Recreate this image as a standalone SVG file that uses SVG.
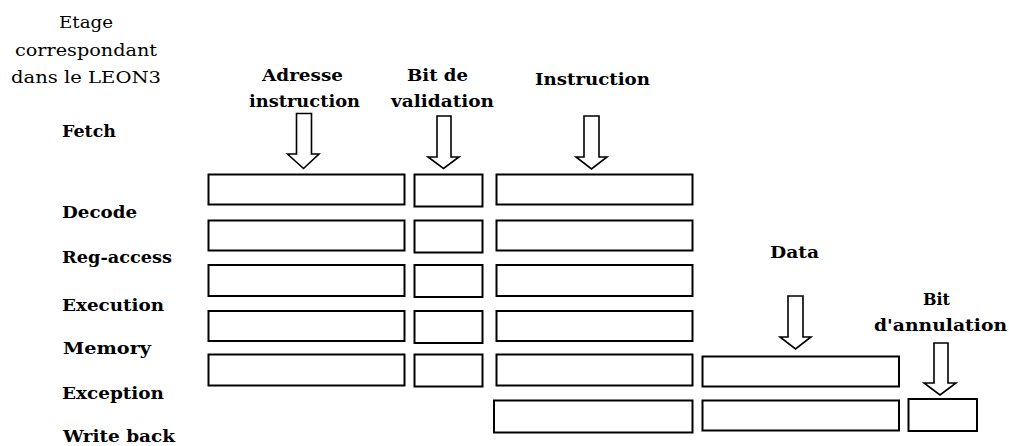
<svg xmlns="http://www.w3.org/2000/svg" width="1009" height="446" viewBox="0 0 1009 446">
<style>
.bg{fill:#fff}
.box{fill:#fff;stroke:#000;stroke-width:2}
.arr{fill:#fff;stroke:#000;stroke-width:1.6;stroke-linejoin:miter}
.lbl{font-family:"DejaVu Serif","Liberation Serif",serif;font-weight:bold;font-size:17.5px;fill:#000}
.reg{font-family:"DejaVu Serif","Liberation Serif",serif;font-size:16.5px;fill:#000}
</style>
<rect class="bg" x="0" y="0" width="1009" height="446"/>
<g id="header">
<text class="reg" x="59" y="28" textLength="54" lengthAdjust="spacingAndGlyphs">Etage</text>
<text class="reg" x="15" y="56" textLength="142" lengthAdjust="spacingAndGlyphs">correspondant</text>
<text class="reg" x="11" y="83" textLength="150" lengthAdjust="spacingAndGlyphs">dans le LEON3</text>
</g>
<g id="stages">
<text class="lbl" x="62" y="137" textLength="54" lengthAdjust="spacingAndGlyphs">Fetch</text>
<text class="lbl" x="62" y="218" textLength="75" lengthAdjust="spacingAndGlyphs">Decode</text>
<text class="lbl" x="62" y="263" textLength="110" lengthAdjust="spacingAndGlyphs">Reg-access</text>
<text class="lbl" x="62" y="311" textLength="102" lengthAdjust="spacingAndGlyphs">Execution</text>
<text class="lbl" x="63" y="354" textLength="88" lengthAdjust="spacingAndGlyphs">Memory</text>
<text class="lbl" x="62" y="399" textLength="102" lengthAdjust="spacingAndGlyphs">Exception</text>
<text class="lbl" x="63" y="442" textLength="112" lengthAdjust="spacingAndGlyphs">Write back</text>
</g>
<g id="col-adresse">
<text class="lbl" x="262" y="81" textLength="81" lengthAdjust="spacingAndGlyphs">Adresse</text>
<text class="lbl" x="249" y="107" textLength="111" lengthAdjust="spacingAndGlyphs">instruction</text>
<rect class="box" x="208.5" y="174.5" width="196" height="30"/>
<rect class="box" x="208.5" y="220.5" width="196" height="30"/>
<rect class="box" x="208.5" y="265" width="196" height="31"/>
<rect class="box" x="208.5" y="311" width="196" height="30"/>
<rect class="box" x="208.5" y="354.5" width="196" height="31"/>
</g>
<g id="col-validation">
<text class="lbl" x="407" y="81" textLength="61" lengthAdjust="spacingAndGlyphs">Bit de</text>
<text class="lbl" x="391" y="107" textLength="103" lengthAdjust="spacingAndGlyphs">validation</text>
<rect class="box" x="414.5" y="174.5" width="68" height="32"/>
<rect class="box" x="414.5" y="220.5" width="68" height="32"/>
<rect class="box" x="414.5" y="265" width="68" height="32"/>
<rect class="box" x="414.5" y="311" width="68" height="32"/>
<rect class="box" x="414.5" y="354.5" width="68" height="32"/>
</g>
<g id="col-instruction">
<text class="lbl" x="535" y="85" textLength="115" lengthAdjust="spacingAndGlyphs">Instruction</text>
<rect class="box" x="496.5" y="174.5" width="196" height="30"/>
<rect class="box" x="496.5" y="220.5" width="196" height="30"/>
<rect class="box" x="496.5" y="265" width="196" height="31"/>
<rect class="box" x="496.5" y="311" width="196" height="30"/>
<rect class="box" x="496.5" y="354.5" width="196" height="31"/>
<rect class="box" x="494" y="400.5" width="198.5" height="32"/>
</g>
<g id="col-data">
<text class="lbl" x="770" y="258" textLength="49" lengthAdjust="spacingAndGlyphs">Data</text>
<rect class="box" x="702.5" y="356.5" width="196.5" height="30"/>
<rect class="box" x="702.5" y="400.5" width="196.5" height="30"/>
</g>
<g id="col-annulation">
<text class="lbl" x="923" y="305" textLength="27" lengthAdjust="spacingAndGlyphs">Bit</text>
<text class="lbl" x="874" y="331" textLength="133" lengthAdjust="spacingAndGlyphs">d'annulation</text>
<rect class="box" x="908.5" y="399" width="68.5" height="32"/>
</g>
<g id="connectors">
<path class="arr" d="M296.5,113.5 H311.5 V154 H319 L303.5,168.5 L287.5,154 H296.5 Z"/>
<path class="arr" d="M437,116 H451 V157 H459 L443.5,168.5 L428,157 H437 Z"/>
<path class="arr" d="M584,116 H599 V157 H607 L591.5,169 L576,157 H584 Z"/>
<path class="arr" d="M788,296 H803 V337 H811 L795.5,349 L780,337 H788 Z"/>
<path class="arr" d="M934,343 H948 V383 H956 L940,395 L924,383 H934 Z"/>
</g>
</svg>
